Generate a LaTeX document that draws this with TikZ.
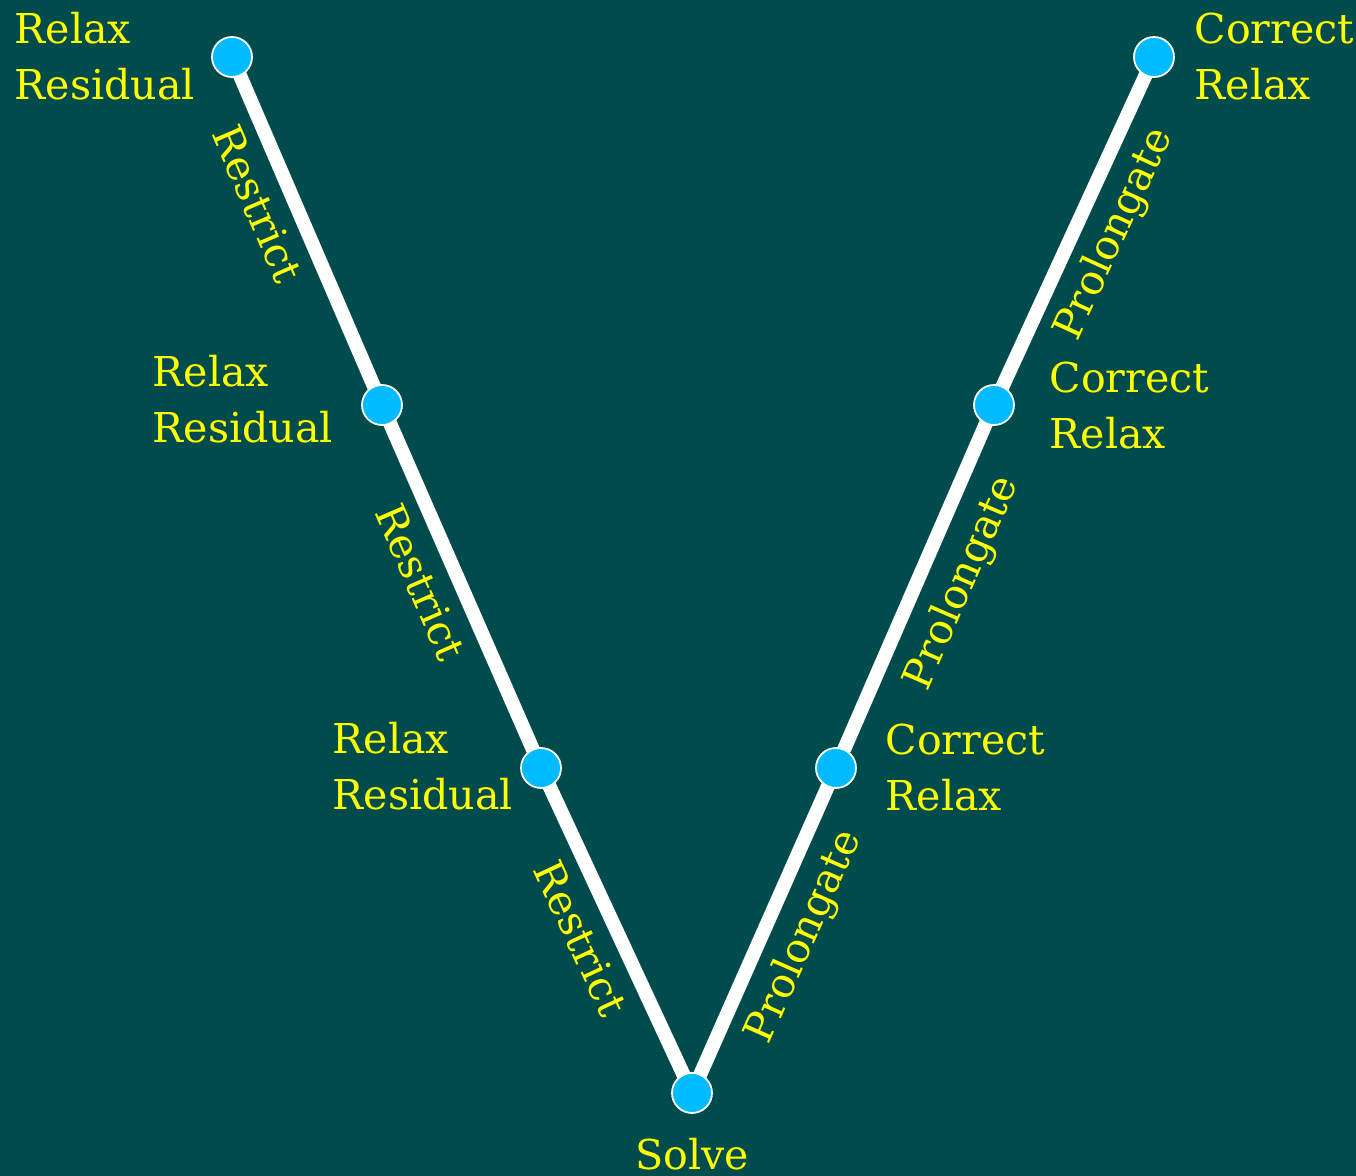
\documentclass[tikz,border=0pt]{standalone}
\usepackage{fontspec}
\setmainfont{DejaVu Serif}
\usetikzlibrary{backgrounds}
\definecolor{bgteal}{RGB}{0,75,75}
\definecolor{dotblue}{RGB}{0,187,255}
\definecolor{labyellow}{RGB}{255,255,0}
\tikzset{
  px/.style={x=0.01cm,y=-0.01cm},
  vdot/.style={circle,fill=dotblue,draw=white,line width=0.5pt,minimum size=0.40cm,inner sep=0pt},
  vline/.style={draw=white,line width=0.14cm,line join=round},
  vlabel/.style={text=labyellow,font=\fontsize{11.7pt}{16.2pt}\selectfont,align=left,inner sep=0pt,anchor=base west},
  elabel/.style={text=labyellow,font=\fontsize{11.7pt}{16.2pt}\selectfont,inner sep=0pt}
}
\begin{document}
\begin{tikzpicture}[px]
\useasboundingbox (0,0) rectangle (1356,1176);
% vertices
\node[vdot] (v1) at (232,57) {};
\node[vdot] (v2) at (382,405) {};
\node[vdot] (v3) at (541,768) {};
\node[vdot] (v4) at (692,1093) {};
\node[vdot] (v5) at (836,768) {};
\node[vdot] (v6) at (994,405) {};
\node[vdot] (v7) at (1154,57) {};
\begin{scope}[on background layer]
  \fill[bgteal] (0,0) rectangle (1356,1176);
  \draw[vline] (v1.center) -- (v2.center) -- (v3.center) -- (v4.center) -- (v5.center) -- (v6.center) -- (v7.center);
\end{scope}
% vertex labels (anchor at baseline of the last line)
\node[vlabel] (t1) at (14,100) {Relax\\Residual};
\node[vlabel] (t2) at (152,443) {Relax\\Residual};
\node[vlabel] (t3) at (332,810) {Relax\\Residual};
\node[vlabel] (t7) at (1194,100) {Correct\\Relax};
\node[vlabel] (t6) at (1049,449) {Correct\\Relax};
\node[vlabel] (t5) at (885,811) {Correct\\Relax};
\node[vlabel,anchor=base] (t4) at (692,1170) {Solve};
% edge labels
\node[elabel,rotate=-66.7] (r1) at (258,204) {Restrict};
\node[elabel,rotate=-66.4] (r2) at (421,582) {Restrict};
\node[elabel,rotate=-65.1] (r3) at (581,938) {Restrict};
\node[elabel,rotate=66.1] (p1) at (805,937) {Prolongate};
\node[elabel,rotate=66.5] (p2) at (963,583) {Prolongate};
\node[elabel,rotate=65.3] (p3) at (1115,234) {Prolongate};
\end{tikzpicture}
\end{document}
